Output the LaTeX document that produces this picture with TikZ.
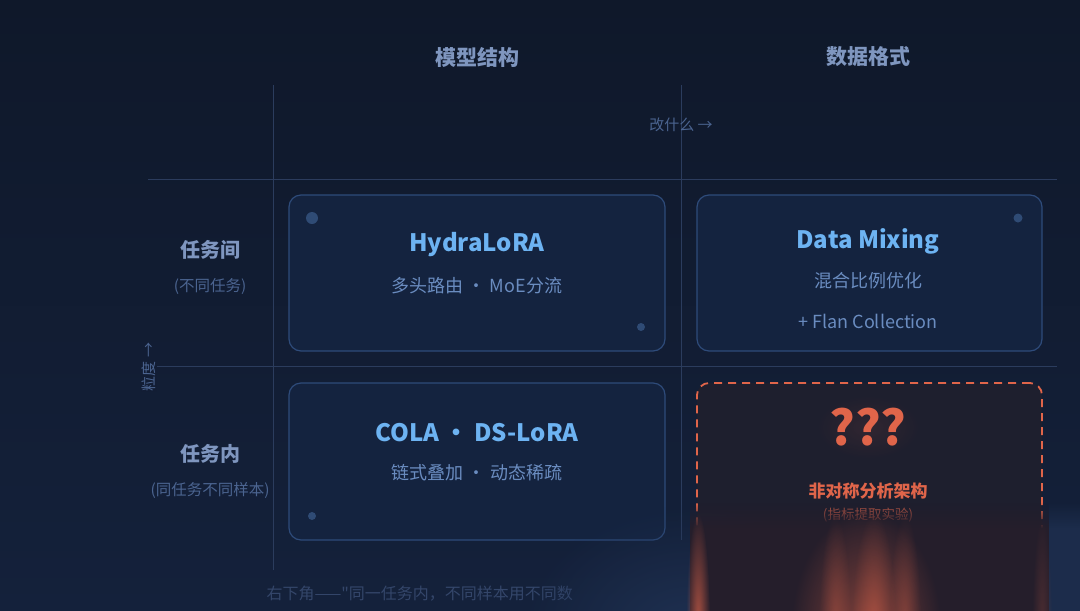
\documentclass[tikz,border=0pt]{standalone}
\usepackage{fontspec}
\setmainfont{Noto Sans CJK SC}
\newfontfamily\plaincjk{Noto Sans CJK SC}
\usetikzlibrary{positioning, fadings}
\definecolor{bgtop}{HTML}{0F182A}
\definecolor{bgbot}{HTML}{14213B}
\definecolor{gridline}{HTML}{2B3C5D}
\definecolor{headtext}{HTML}{7F96BF}
\definecolor{dimtext}{HTML}{4B6490}
\definecolor{foottext}{HTML}{34466A}
\definecolor{cellfill}{HTML}{14233F}
\definecolor{cellborder}{HTML}{2E4B7A}
\definecolor{titleblue}{HTML}{6DB3F2}
\definecolor{subblue}{HTML}{6A8CC0}
\definecolor{dotblue}{HTML}{2F4B75}
\definecolor{alertred}{HTML}{E0654A}
\definecolor{alertfill}{HTML}{1E1F2E}
\definecolor{smearblue}{HTML}{1F3152}
\definecolor{smearbrown}{HTML}{251E2B}
\tikzfading[name=softglow, inner color=transparent!0, outer color=transparent!100]
\tikzstyle{cell} = [rectangle, rounded corners=12pt, draw=cellborder, fill=cellfill, line width=1.2pt, inner sep=0pt]
\tikzstyle{alertcell} = [rectangle, rounded corners=12pt, draw=alertred, fill=alertfill, line width=1.8pt, dash pattern=on 8pt off 6pt, inner sep=0pt]
\tikzstyle{header} = [text=headtext, font=\bfseries\fontsize{21}{21}\selectfont]
\tikzstyle{rowhead} = [text=headtext, font=\bfseries\fontsize{20}{20}\selectfont]
\tikzstyle{rownote} = [text=dimtext, font=\fontsize{15.5}{15.5}\selectfont]
\tikzstyle{axislabel} = [text=dimtext, font=\fontsize{15}{15}\selectfont]
\tikzstyle{celltitle} = [text=titleblue, font=\bfseries\fontsize{24}{24}\selectfont]
\tikzstyle{cellsub} = [text=subblue, font=\fontsize{18}{18}\selectfont]
\tikzstyle{dot} = [circle, fill=dotblue, inner sep=0pt]
\tikzstyle{gridrule} = [draw=gridline, line width=1pt]
\tikzstyle{asktext} = [text=alertred, font=\bfseries\fontsize{48}{48}\selectfont]
\tikzstyle{streak} = [alertred, path fading=softglow]

\begin{document}
\begin{tikzpicture}[x=1pt, y=-1pt, node distance=40pt]
        \shade[top color=bgtop, bottom color=bgbot] (0,0) rectangle (1080,611);
        \useasboundingbox (0,0) rectangle (1080,611);

        % grid
        \coordinate (vtop1) at (273,85);
        \coordinate (vbot1) at (273,570);
        \coordinate (vtop2) at (681,85);
        \coordinate (vbot2) at (681,540);
        \coordinate (hleft1) at (148,179);
        \coordinate (hright1) at (1057,179);
        \coordinate (hleft2) at (148,366);
        \coordinate (hright2) at (1057,366);
        \draw [gridrule] (vtop1) -- (vbot1);
        \draw [gridrule] (vtop2) -- (vbot2);
        \draw [gridrule] (hleft1) -- (hright1);
        \draw [gridrule] (hleft2) -- (hright2);

        \node (colModel) [header] at (477,57) {模型结构};
        \node (colData) [header] at (868,57) {数据格式};
        \node (whatAxis) [axislabel] at (681,125) {改什么 →};
        \node (grainAxis) [axislabel, rotate=90, fill=bgbot!60!bgtop, inner sep=1pt] at (149,367) {粒度 →};

        \node (rowInter) [rowhead] at (210,250) {任务间};
        \node (rowInterNote) [rownote, below of=rowInter, yshift=4pt] {(不同任务)};
        \node (rowIntra) [rowhead] at (210,454) {任务内};
        \node (rowIntraNote) [rownote, below of=rowIntra, yshift=4pt] {(同任务不同样本)};

        % cells
        \node (hydraCell) [cell, minimum width=376pt, minimum height=156pt] at (477,273) {};
        \node (mixCell) [cell, minimum width=345pt, minimum height=156pt] at (869.5,273) {};
        \node (colaCell) [cell, minimum width=376pt, minimum height=157pt] at (477,461.5) {};
        \node (askCell) [alertcell, minimum width=345pt, minimum height=157pt] at (869.5,461.5) {};

        \node (hydraDotA) [dot, minimum size=12pt] at (312,218) {};
        \node (hydraDotB) [dot, minimum size=8pt] at (641,327) {};
        \node (mixDot) [dot, minimum size=9pt] at (1018,218) {};
        \node (colaDot) [dot, minimum size=8pt] at (312,516) {};

        \node (hydra) [celltitle] at (477,245) {HydraLoRA};
        \node (hydraSub) [cellsub, below of=hydra, yshift=-1pt] {多头路由 · MoE分流};
        \node (mix) [celltitle] at (868,241) {Data Mixing};
        \node (mixSub) [cellsub, below of=mix] {混合比例优化};
        \node (mixFlan) [cellsub, below of=mixSub] {+ Flan Collection};
        \node (cola) [celltitle] at (477,433) {COLA • DS-LoRA};
        \node (colaSub) [cellsub, below of=cola] {链式叠加 · 动态稀疏};

        % soft halo round the question marks
        \fill [alertred, opacity=0.1, path fading=softglow] (868,427) ellipse [x radius=52, y radius=32];
        \node (ask) [asktext] at (868,427) {???};
        \node (askName) [text=alertred, font=\bfseries\fontsize{17}{17}\selectfont] at (868,491) {非对称分析架构};
        \node (askNote) [text=alertred!80!bgbot, font=\fontsize{13.5}{13.5}\selectfont] at (868,515) {(指标提取实验)};

        \node (footNote) [anchor=west, text=foottext, font=\fontsize{16}{16}\selectfont] at (263,594) {右下角——{\plaincjk "}同一任务内，不同样本用不同数};

        % smeared bottom edge
        \fill [smearblue, path fading=softglow] (690,635) ellipse [x radius=170, y radius=130];
        \fill [smearbrown, path fading=north] (690,502) rectangle (1049,528);
        \fill [smearbrown] (690,528) rectangle (1049,611);
        \fill [smearblue!70!bgbot, path fading=north] (1049,502) rectangle (1080,528);
        \fill [smearblue!70!bgbot] (1049,528) rectangle (1080,611);
        \fill [streak, opacity=0.7] (698,625) ellipse [x radius=12, y radius=112];
        \fill [streak, opacity=0.5] (866,630) ellipse [x radius=75, y radius=118];
        \fill [streak, opacity=0.45] (874,625) ellipse [x radius=22, y radius=112];
        \fill [streak, opacity=0.35] (835,625) ellipse [x radius=16, y radius=110];
        \fill [streak, opacity=0.35] (905,625) ellipse [x radius=16, y radius=110];
        \fill [streak, opacity=0.2] (1042,625) ellipse [x radius=10, y radius=108];
    \end{tikzpicture}
\end{document}
